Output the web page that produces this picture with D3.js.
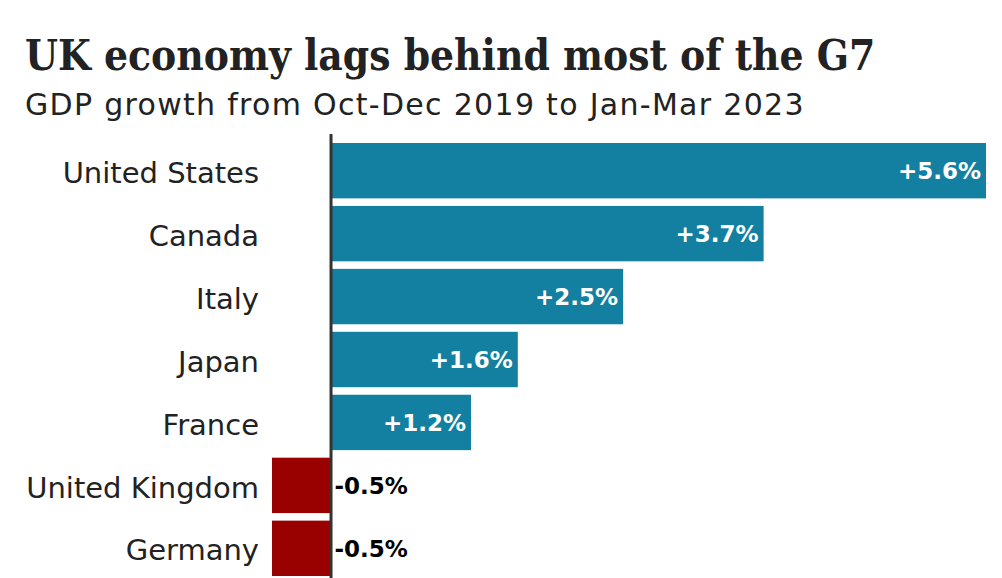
<!DOCTYPE html>
<html><head><meta charset="utf-8">
<script src="https://cdn.jsdelivr.net/npm/d3@7"></script>
<style>body{margin:0;background:#fff}svg{display:block}</style>
</head><body>
<svg id="c" width="1002" height="578"></svg>
<script>
const countries = ["United States","Canada","Italy","Japan","France","United Kingdom","Germany"];
const growth = [5.6, 3.7, 2.5, 1.6, 1.2, -0.5, -0.5];
const valueLabels = ["+5.6%","+3.7%","+2.5%","+1.6%","+1.2%","-0.5%","-0.5%"];
const title = "UK economy lags behind most of the G7";
const subtitle = "GDP growth from Oct-Dec 2019 to Jan-Mar 2023";

const svg = d3.select("#c");
const data = countries.map((c,i)=>({c, v:growth[i], l:valueLabels[i]}));

const x = d3.scaleLinear().domain([-0.5, 5.6]).range([272, 986]);
const y = d3.scaleBand().domain(countries).range([143, 576]).paddingInner(0.12).paddingOuter(0);

svg.append("text").attr("x",25).attr("y",70)
  .attr("font-family","'DejaVu Serif Condensed', 'DejaVu Serif'").attr("font-weight","bold").attr("font-size",42)
  .attr("fill","#222").text(title);
svg.append("text").attr("x",25).attr("y",115)
  .attr("font-family","DejaVu Sans").attr("font-size",30).attr("letter-spacing",1.3)
  .attr("fill","#222").text(subtitle);

svg.selectAll("rect.bar").data(data).join("rect").attr("class","bar")
  .attr("x", d=>x(Math.min(0,d.v)))
  .attr("width", d=>Math.abs(x(d.v)-x(0)))
  .attr("y", d=>y(d.c)).attr("height", y.bandwidth())
  .attr("fill", d=>d.v>=0 ? "#1380A1" : "#990000");

const ax = svg.append("g").attr("transform",`translate(${x(-0.5)},0)`)
  .call(d3.axisLeft(y).tickSize(0).tickPadding(13));
ax.select(".domain").remove();
ax.selectAll("text").attr("font-family","DejaVu Sans").attr("font-size",29).attr("fill","#222").attr("dy","0.42em");

svg.append("line").attr("x1",x(0)+0.5).attr("x2",x(0)+0.5).attr("y1",134).attr("y2",578)
  .attr("stroke","#333").attr("stroke-width",3);

svg.selectAll("text.val").data(data).join("text").attr("class","val")
  .attr("x", d=> d.v>=0 ? x(d.v)-5 : x(0)+4)
  .attr("y", d=>y(d.c)+y.bandwidth()/2)
  .attr("dy","0.38em")
  .attr("text-anchor", d=> d.v>=0 ? "end" : "start")
  .attr("font-family","DejaVu Sans").attr("font-weight","bold").attr("font-size",23)
  .attr("fill", d=> d.v>=0 ? "#fff" : "#000")
  .text(d=>d.l);
</script>
</body></html>
